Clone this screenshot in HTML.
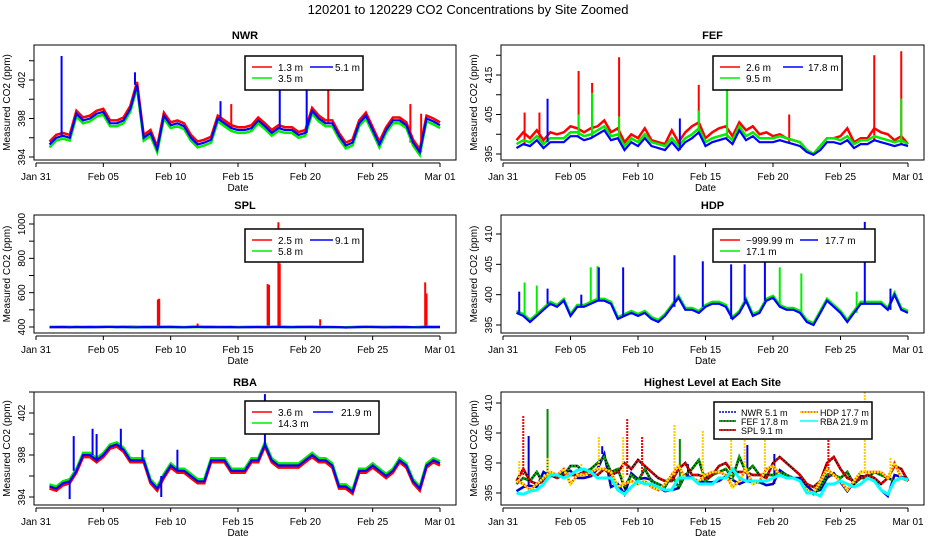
<!DOCTYPE html>
<html><head><meta charset="utf-8">
<style>
html,body{margin:0;padding:0;background:#fff;}
svg{display:block;font-family:"Liberation Sans",sans-serif;}
</style></head>
<body>
<svg id="chart" width="936" height="540" viewBox="0 0 936 540" xmlns="http://www.w3.org/2000/svg">
<rect x="0" y="0" width="936" height="540" fill="#fff"/>
<text x="468" y="14" text-anchor="middle" font-size="13">120201  to  120229 CO2 Concentrations by Site Zoomed</text>
</svg>
<script>
// ---- shared time categories ----
const days = [1,1.5,2,2.5,3,3.5,4,4.5,5,5.5,6,6.5,7,7.5,8,8.5,9,9.5,10,10.5,11,11.5,12,12.5,13,13.5,14,14.5,15,15.5,16,16.5,17,17.5,18,18.5,19,19.5,20,20.5,21,21.5,22,22.5,23,23.5,24,24.5,25,25.5,26,26.5,27,27.5,28,28.5,29,29.5,30];
const daysDaily = [1,2,3,4,5,6,7,8,9,10,11,12,13,14,15,16,17,18,19,20,21,22,23,24,25,26,27,28,29,30];
const xTickLabels = ["Jan 31","Feb 05","Feb 10","Feb 15","Feb 20","Feb 25","Mar 01"];
const xTickDays = [0,5,10,15,20,25,30];

// ---- NWR ----
const nwrBlue = [395.3,396,396.2,396,398.5,397.8,398,398.5,398.7,397.5,397.5,397.8,399,401.5,396,396.5,394.8,398.3,397.3,397.5,397.2,396,395.3,395.5,395.8,398,397.5,397,396.8,396.8,397,397.8,397.2,396.5,397,396.8,396.8,396.3,396.5,398.8,398,397.5,397.5,396.2,395.2,395.5,397.5,398.3,396.8,395.3,396.8,397.8,397.8,397.3,395.5,394.5,398,397.7,397.3];
const nwrRed = [395.6,396.3,396.5,396.3,398.8,398.1,398.3,398.8,399,397.8,397.8,398.1,399.3,401.8,396.3,396.8,395.1,398.6,397.6,397.8,397.5,396.3,395.6,395.8,396.1,398.3,397.8,397.3,397.1,397.1,397.3,398.1,397.5,396.8,397.3,397.1,397.1,396.6,396.8,399.1,398.3,397.8,397.8,396.5,395.5,395.8,397.8,398.6,397.1,395.6,397.1,398.1,398.1,397.6,395.8,394.8,398.3,398,397.6];
const nwrGreen = [395,395.7,395.9,395.7,398.2,397.5,397.7,398.2,398.4,397.2,397.2,397.5,398.7,401.2,395.7,396.2,394.5,398,397,397.2,396.9,395.7,395,395.2,395.5,397.7,397.2,396.7,396.5,396.5,396.7,397.5,396.9,396.2,396.7,396.5,396.5,396,396.2,398.5,397.7,397.2,397.2,395.9,394.9,395.2,397.2,398,396.5,395,396.5,397.5,397.5,397,395.2,394.2,397.7,397.4,397];
const nwrSpikeDays = [14.5,21.7,27.8,28.6,1.9,7.35,13.7,18.1,20.1];
const nwrSpikeVals = [399.5,401.5,399.5,398.5,404.5,402.8,399.8,403,401.5];
const nwrSpikeSeries = ["r","r","r","r","b","b","b","b","b"];

// ---- FEF ----
const fefBlue = [396.5,397.5,397,398.5,396.5,398,398,398,399.5,399.5,398.5,399,400,401,398.5,399,396,398,397,399,397,396.5,396,398,396,398,399,400.5,397,398,398.5,399,397.5,401,398.5,399.5,398,398,398,398.5,398,397.5,397,395.5,394.8,396,398,398,397.5,398.5,396.5,397.5,397.5,398.5,398,397.5,397,397.5,397];
const fefGreen = [397.5,398.5,398,399.5,397.5,399,399,399,400.5,400.5,399.5,400,401,402,399.5,400,397,399,398,400,398,397.5,397,399,397,399,400,401.5,398,399,399.5,400,398.5,402,399.5,400.5,399,399,399,399.5,399,398.5,398,396,395,397,399,399,398.5,399.5,397.5,398.5,398.5,399.5,399,398.5,398,398.5,397.5];
const fefRed = [398.5,400.5,399,401,398.5,400.5,400,400.5,402,401.5,400.5,401.5,402,403.5,400.5,401.5,398,400,399,401.5,398.5,398,397.5,401,398,400.5,402,403,399,400.5,401.5,402,399.5,403,401,402,400,400.5,399.5,400,399,398.5,398,396,395,397,399,399,399.5,401.5,398,399,399,401.5,400.5,400,398.5,399.5,397.5];
const fefSpikeDays = [1.6,2.7,5.6,6.6,8.6,14.5,21.2,27.5,29.5,5.6,6.6,8.6,14.5,16.6,29.5,3.3,13.1];
const fefSpikeVals = [405.5,405.5,416,413,419.5,412.5,405,420,421,405,410.5,404.5,406,412,409,409,404];
const fefSpikeSeries = ["r","r","r","r","r","r","r","r","r","g","g","g","g","g","g","b","b"];

// ---- SPL ----
const splBlue = [399,399.5,400,398.5,400.5,399.5,400,399,400,401,399.5,400.5,399,398,400,399.5,399,400,400.5,399.5,398,400,401,399.5,400,399,399.5,400,398.5,399,399.5,400,399,400,400.5,399.5,399,400,400,400.5,399.5,400,400,399.5,397,398,400,401,400,399,398.5,400,399.5,400,399,398,400,399.5,400];
const splGreen = [400,402,399.5,400,400.5,400,399,400,399.5,400,399,399.5,400,400,399.5,400,401,400,399,400,400,399.5,399,400,400,400.5,400,399,400,400];
const splRed = [400,400.5,399.5,400,401,400.5,401,400,401,400,399.5,402,400.5,400,399.5,400,400,401,400,400.5,400,399,398,400,400.5,400,400,399,401,400];
const splSpikeDays = [9.05,9.15,12,17.2,17.3,18,18.1,21.1,28.9,29];
const splSpikeVals = [560,565,420,650,645,1010,770,445,660,595];
const splSpikeSeries = ["r","r","r","r","r","r","r","r","r","r"];

// ---- HDP ----
const hdpBlue = [397,396.5,395.5,396.5,397.5,398.5,398,399,396.5,398,398,398.5,399,399,398.5,396,396.5,397,396.5,397,396,395.5,396.5,398,399.5,397.5,397.5,397,398,398.5,398.5,398,396,397,399,396.5,397,399,399.5,398,397.5,397.5,397,395.5,395,397,399,398,397,395.5,397,398.5,398.5,398.5,398.5,397.5,400,397.5,397];
const hdpGreen = [397.3,396.8,395.8,396.8,397.8,398.8,398.3,399.3,396.8,398.3,398.3,398.8,399.3,399.3,398.8,396.3,396.8,397.3,396.8,397.3,396.3,395.8,396.8,398.3,399.8,397.8,397.8,397.3,398.3,398.8,398.8,398.3,396.3,397.3,399.3,396.8,397.3,399.3,399.8,398.3,397.8,397.8,397.3,395.8,395.3,397.3,399.3,398.3,397.3,395.8,397.3,398.8,398.8,398.8,398.8,397.8,400.3,397.8,397.3];
const hdpRed = [];
const hdpSpikeDays = [1.6,2.5,6.5,7.0,20.5,22.1,26.2,1.2,3.3,5.8,7.1,8.9,12.7,14.8,16.9,17.9,19.4,26.8,28.7];
const hdpSpikeVals = [402,401.5,404.5,404.7,404.5,403.5,400.5,400.5,401,400,404.5,404.5,406.5,405.5,405,405,405.5,412,401];
const hdpSpikeSeries = ["g","g","g","g","g","g","g","b","b","b","b","b","b","b","b","b","b","b","b"];

// ---- RBA ----
const rbaBlue = [395,394.8,395.3,395.5,396.5,398,398,397.5,398,398.8,399,398.5,397.5,397.5,397.5,395.5,394.8,396,397,396.5,396.5,396,395.5,395.5,397.5,397.5,397.5,396.5,396.5,396.5,397.5,397.5,399,397.5,397,397,397,397,397.5,398,397.5,397.5,397,395,395,394.5,396.5,396.5,397,396.5,396,396.5,397.5,397,395.5,394.8,397,397.5,397.2];
const rbaGreen = [395.2,395,395.5,395.7,396.7,398.2,398.2,397.7,398.2,399,399.2,398.7,397.7,397.7,397.7,395.7,395,396.2,397.2,396.7,396.7,396.2,395.7,395.7,397.7,397.7,397.7,396.7,396.7,396.7,397.7,397.7,399.2,397.7,397.2,397.2,397.2,397.2,397.7,398.2,397.7,397.7,397.2,395.2,395.2,394.7,396.7,396.7,397.2,396.7,396.2,396.7,397.7,397.2,395.7,395,397.2,397.7,397.4];
const rbaRed = [394.8,394.6,395.1,395.3,396.3,397.8,397.8,397.3,397.8,398.6,398.8,398.3,397.3,397.3,397.3,395.3,394.6,395.8,396.8,396.3,396.3,395.8,395.3,395.3,397.3,397.3,397.3,396.3,396.3,396.3,397.3,397.3,398.8,397.3,396.8,396.8,396.8,396.8,397.3,397.8,397.3,397.3,396.8,394.8,394.8,394.3,396.3,396.3,396.8,396.3,395.8,396.3,397.3,396.8,395.3,394.6,396.8,397.3,397];
const rbaSpikeDays = [2.5,2.8,4.2,4.5,6.3,7.9,9.3,10.5,17];
const rbaSpikeVals = [393.8,399.8,400.5,400,400.5,398.5,394,398.5,403.8];
const rbaSpikeSeries = ["b","b","b","b","b","b","b","b","b"];

// ---- Highest level (SPL 9.1 m detail) ----
const splHigh = [397,399,397,396.5,397,398,397.5,398,398,398,398.5,398,398,399,398,398.5,400,399,400.5,399.5,398.5,397.5,397,397,399,400,398,398,397.5,398,399.5,400,398.5,398.5,398.5,398,398,397.5,400,401,400,399,398,396.5,396,397,400,401,399,397.5,397,397.5,398,397.5,396.5,397.5,399.5,399,397];
const splHighSpikeDays = [1.5,9.2,10.3,24.1];
const splHighSpikeVals = [408,407.5,404.5,404.5];

// ---- tick arrays ----
const nwrTicks=[394,396,398,400,402,404], nwrTickLabels=["394","","398","","402",""];
const fefTicks=[395,400,405,410,415,420], fefTickLabels=["395","","405","","415",""];
const splTicks=[400,500,600,700,800,900,1000], splTickLabels=["400","","600","","800","","1000"];
const hdpTicks=[395,400,405,410], hdpTickLabels=["395","400","405","410"];
const rbaTicks=[394,396,398,400,402,404], rbaTickLabels=["394","","398","","402",""];
const highTicks=[395,400,405,410], highTickLabels=["395","400","405","410"];

const svg = document.getElementById('chart');
const NS = "http://www.w3.org/2000/svg";
function mk(tag, attrs, parent){
  const e = document.createElementNS(NS, tag);
  for (const k in attrs) e.setAttribute(k, attrs[k]);
  (parent||svg).appendChild(e);
  return e;
}
const COL = {r:"#ff0000", g:"#00ee00", b:"#0000ff"};

function makePanel(p){
  const g = mk('g', {});
  
  
  const xJ = p.bx0 + 2, xM = p.xEnd;
  const xs = d => xJ + d * (xM - xJ) / 30;
  const ys = v => p.yA + (v - p.vA) * (p.yB - p.yA) / (p.vB - p.vA);
  p.xs = xs; p.ys = ys;
  const t = mk('text', {x:(p.bx0+p.bx1)/2, y:p.by0-6, 'text-anchor':'middle', 'font-size':11, 'font-weight':'bold'}, g);
  t.textContent = p.title;
  
  
  const cid = 'clip-' + p.name;
  const cp = mk('clipPath', {id:cid}, g);
  mk('rect', {x:p.bx0, y:p.by0, width:p.bx1-p.bx0, height:p.by1-p.by0}, cp);
  const plot = mk('g', {'clip-path':'url(#'+cid+')'}, g);
  
  
  p.plot = plot;
  const box = mk('rect', {x:p.bx0, y:p.by0, width:p.bx1-p.bx0, height:p.by1-p.by0, fill:'none', stroke:'#000', 'stroke-width':1}, g);
  
  
  const xa = mk('g', {}, g);
  
  
  const ay = p.by1 + 3;
  mk('line', {x1:xs(xTickDays[0]), x2:xs(xTickDays[xTickDays.length-1]), y1:ay, y2:ay, stroke:'#000'}, xa);
  xTickDays.forEach((d,i)=>{
    mk('line', {x1:xs(d), x2:xs(d), y1:ay, y2:ay+4, stroke:'#000'}, xa);
    const tl = mk('text', {x:xs(d), y:p.by1+20, 'text-anchor':'middle', 'font-size':10}, xa);
    tl.textContent = xTickLabels[i];
    
    
  });
  const xt = mk('text', {x:(xs(0)+xs(30))/2, y:p.by1+31, 'text-anchor':'middle', 'font-size':10}, g);
  xt.textContent = 'Date';
  
  
  const ya = mk('g', {}, g);
  
  
  const ax = p.bx0;
  mk('line', {x1:ax, x2:ax, y1:ys(p.ticks[0]), y2:ys(p.ticks[p.ticks.length-1]), stroke:'#000'}, ya);
  p.ticks.forEach((v,i)=>{
    mk('line', {x1:ax-5, x2:ax, y1:ys(v), y2:ys(v), stroke:'#000'}, ya);
    if (p.tickLabels[i]) {
      const tl = mk('text', {x:0, y:0, 'text-anchor':'middle', 'font-size':10, transform:'translate('+(ax-9)+','+ys(v)+') rotate(-90)'}, ya);
      tl.textContent = p.tickLabels[i];
      
      
    }
  });
  const yt = mk('text', {x:0, y:0, 'text-anchor':'middle', 'font-size':10, transform:'translate('+(ax-24)+','+((p.by0+p.by1)/2)+') rotate(-90)'}, g);
  yt.textContent = 'Measured CO2 (ppm)';
  
  
  return p;
}

function series(p, dayArr, vals, color, width, name, dash){
  if (!vals.length) return;
  const pts = vals.map((v,i)=> p.xs(dayArr[i]).toFixed(1)+','+p.ys(v).toFixed(1)).join(' ');
  const a = {points:pts, fill:'none', stroke:color, 'stroke-width':width, 'stroke-linejoin':'miter'};
  if (dash) a['stroke-dasharray'] = dash;
  const pl = mk('polyline', a, p.plot);
  
  
}
function spikes(p, sd, sv, ss, which, baseDays, baseVals, color, name, dash){
  sd.forEach((d,i)=>{
    if (ss[i] !== which) return;
    let bi = 0, bd = 1e9;
    baseDays.forEach((bd2,j)=>{ const dd=Math.abs(bd2-d); if(dd<bd){bd=dd;bi=j;} });
    const a = {x1:p.xs(d), x2:p.xs(d), y1:p.ys(baseVals[bi]), y2:p.ys(sv[i]), stroke:color, 'stroke-width':2};
    if (dash) a['stroke-dasharray'] = dash;
    const l = mk('line', a, p.plot);
    
    
  });
}
function legend(l){
  const g = mk('g', {});
  
  
  mk('rect', {x:l.x, y:l.y, width:l.w, height:l.h, fill:'#fff', stroke:'#000', 'stroke-width':1.5}, g);
  l.entries.forEach(e=>{
    const eg = mk('g', {}, g);
    
    
    const lx0 = l.x + l.colLine[e.c][0], lx1 = l.x + l.colLine[e.c][1];
    const yy = l.rows[e.r];
    const a = {x1:lx0, x2:lx1, y1:yy, y2:yy, stroke:e.color, 'stroke-width':1.5};
    if (e.dash) a['stroke-dasharray'] = e.dash;
    if (e.under) mk('line', {x1:lx0, x2:lx1, y1:yy, y2:yy, stroke:e.under, 'stroke-width':1.5}, eg);
    mk('line', a, eg);
    const t = mk('text', {x:l.x + l.colText[e.c], y:yy+4, 'font-size':l.fs||10}, eg);
    t.textContent = e.label;
  });
}

function threePanel(p, red, green, blue, sd, sv, ss){
  const rd = red.length === days.length ? days : daysDaily;
  const gd = green.length === days.length ? days : daysDaily;
  series(p, rd, red, COL.r, 2.5, p.name+'-series-red');
  spikes(p, sd, sv, ss, 'r', days, blue, COL.r, p.name+'-spike-red');
  series(p, gd, green, COL.g, 2.5, p.name+'-series-green');
  spikes(p, sd, sv, ss, 'g', days, blue, COL.g, p.name+'-spike-green');
  series(p, days, blue, COL.b, 2.2, p.name+'-series-blue');
  spikes(p, sd, sv, ss, 'b', days, blue, COL.b, p.name+'-spike-blue');
}

const L = {bx0:34, bx1:456, xEnd:440}, R = {bx0:501, bx1:924, xEnd:908};

const nwr = makePanel(Object.assign({name:'nwr', title:'NWR', by0:45, by1:160, yA:157, vA:394, yB:80, vB:402, ticks:nwrTicks, tickLabels:nwrTickLabels}, L));
threePanel(nwr, nwrRed, nwrGreen, nwrBlue, nwrSpikeDays, nwrSpikeVals, nwrSpikeSeries);
legend({name:'nwr-legend', x:245, y:56, w:118, h:34, rows:[67,78], colLine:[[7,27],[65,88]], colText:[33,90], entries:[
  {c:0,r:0,color:COL.r,label:'1.3 m'},{c:0,r:1,color:COL.g,label:'3.5 m'},{c:1,r:0,color:COL.b,label:'5.1 m'}]});

const fef = makePanel(Object.assign({name:'fef', title:'FEF', by0:45, by1:160, yA:154, vA:395, yB:75, vB:415, ticks:fefTicks, tickLabels:fefTickLabels}, R));
threePanel(fef, fefRed, fefGreen, fefBlue, fefSpikeDays, fefSpikeVals, fefSpikeSeries);
legend({name:'fef-legend', x:713, y:56, w:129, h:34, rows:[67,78], colLine:[[7,27],[70,90]], colText:[33,95], entries:[
  {c:0,r:0,color:COL.r,label:'2.6 m'},{c:0,r:1,color:COL.g,label:'9.5 m'},{c:1,r:0,color:COL.b,label:'17.8 m'}]});

const spl = makePanel(Object.assign({name:'spl', title:'SPL', by0:215, by1:333, yA:327, vA:400, yB:224, vB:1000, ticks:splTicks, tickLabels:splTickLabels}, L));
threePanel(spl, splRed, splGreen, splBlue, splSpikeDays, splSpikeVals, splSpikeSeries);
legend({name:'spl-legend', x:245, y:229, w:118, h:33, rows:[240,251], colLine:[[7,27],[65,88]], colText:[33,90], entries:[
  {c:0,r:0,color:COL.r,label:'2.5 m'},{c:0,r:1,color:COL.g,label:'5.8 m'},{c:1,r:0,color:COL.b,label:'9.1 m'}]});

const hdp = makePanel(Object.assign({name:'hdp', title:'HDP', by0:215, by1:333, yA:325, vA:395, yB:234, vB:410, ticks:hdpTicks, tickLabels:hdpTickLabels}, R));
threePanel(hdp, hdpRed, hdpGreen, hdpBlue, hdpSpikeDays, hdpSpikeVals, hdpSpikeSeries);
legend({name:'hdp-legend', x:713, y:229, w:162, h:33, rows:[240,251], colLine:[[7,27],[87,105]], colText:[33,112], entries:[
  {c:0,r:0,color:COL.r,label:'\u2212999.99 m'},{c:0,r:1,color:COL.g,label:'17.1 m'},{c:1,r:0,color:COL.b,label:'17.7 m'}]});

const rba = makePanel(Object.assign({name:'rba', title:'RBA', by0:392, by1:505, yA:497, vA:394, yB:413, vB:402, ticks:rbaTicks, tickLabels:rbaTickLabels}, L));
threePanel(rba, rbaRed, rbaGreen, rbaBlue, rbaSpikeDays, rbaSpikeVals, rbaSpikeSeries);
legend({name:'rba-legend', x:245, y:401, w:134, h:33, rows:[412,423], colLine:[[7,27],[68,88]], colText:[33,96], entries:[
  {c:0,r:0,color:COL.r,label:'3.6 m'},{c:0,r:1,color:COL.g,label:'14.3 m'},{c:1,r:0,color:COL.b,label:'21.9 m'}]});

const hi = makePanel(Object.assign({name:'highest', title:'Highest Level at Each Site', by0:392, by1:505, yA:493, vA:395, yB:403, vB:410, ticks:highTicks, tickLabels:highTickLabels}, R));
series(hi, days, nwrBlue, '#0000cc', 2.5, 'highest-series-nwr');
spikes(hi, nwrSpikeDays, nwrSpikeVals, nwrSpikeSeries, 'b', days, nwrBlue, '#0000cc', 'highest-spike-nwr');
series(hi, days, fefBlue, '#000', 2.5, 'highest-series-fef-base');
series(hi, days, fefBlue, '#00aa00', 2.5, 'highest-series-fef', '2,1');
spikes(hi, fefSpikeDays, fefSpikeVals, fefSpikeSeries, 'b', days, fefBlue, '#008800', 'highest-spike-fef');
series(hi, days, splHigh, '#000', 2.5, 'highest-series-spl-base');
series(hi, days, splHigh, '#ff0000', 2.5, 'highest-series-spl', '2,1');
splHighSpikeDays.forEach((d,i)=>{
  const l = mk('line', {x1:hi.xs(d), x2:hi.xs(d), y1:hi.ys(398), y2:hi.ys(splHighSpikeVals[i]), stroke:'#ff0000', 'stroke-width':2, 'stroke-dasharray':'2,1'}, hi.plot);
  
  
});
series(hi, days, hdpBlue, '#ff3300', 2.5, 'highest-series-hdp-base');
series(hi, days, hdpBlue, '#ffee00', 2.5, 'highest-series-hdp', '2,1');
spikes(hi, hdpSpikeDays, hdpSpikeVals, hdpSpikeSeries, 'b', days, hdpBlue, '#ffcc00', 'highest-spike-hdp', '2,1');
series(hi, days, rbaBlue, '#00ffff', 3, 'highest-series-rba');
legend({name:'highest-legend', x:714, y:402, w:158, h:37, fs:9, rows:[412,421,430], colLine:[[5,22],[86,104]], colText:[27,106], entries:[
  {c:0,r:0,color:'#0000cc',label:'NWR  5.1 m',dash:'2,1'},
  {c:0,r:1,color:'#00aa00',under:'#000',label:'FEF  17.8 m',dash:'2,1'},
  {c:0,r:2,color:'#ff0000',under:'#000',label:'SPL  9.1 m',dash:'2,1'},
  {c:1,r:0,color:'#ffee00',under:'#ff3300',label:'HDP  17.7 m',dash:'2,1'},
  {c:1,r:1,color:'#00ffff',label:'RBA  21.9 m'}]});
</script>
</body></html>
